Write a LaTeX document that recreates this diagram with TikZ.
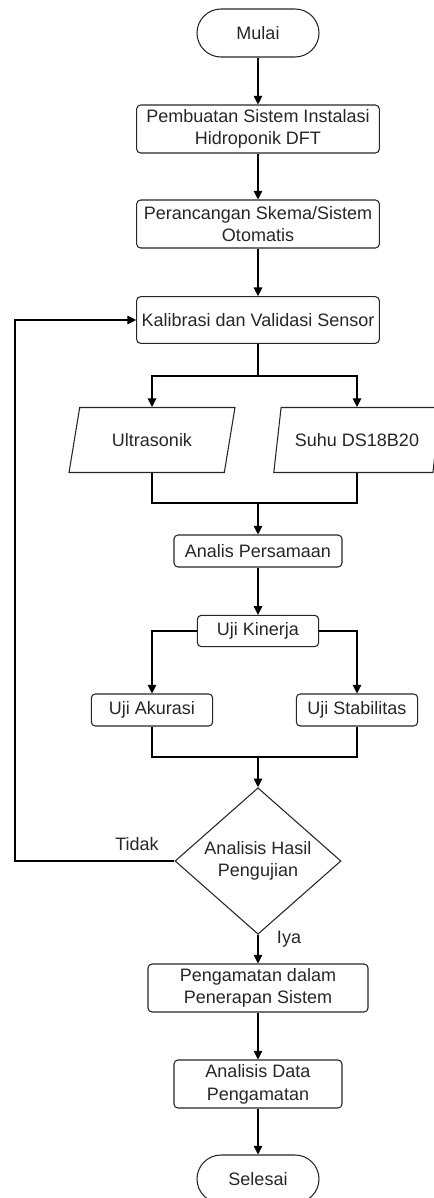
\documentclass[tikz,border=0pt]{standalone}
\usepackage{fontspec}
\setmainfont{Liberation Sans}
\usetikzlibrary{shapes.geometric,arrows.meta}

\tikzset{
  proses/.style={draw=black!85, rectangle, rounded corners=3pt, align=center, inner sep=1pt},
  terminal/.style={draw=black!85, rectangle, rounded corners=18pt, align=center, minimum width=91.5pt, minimum height=36pt},
  data/.style={draw=black!85, trapezium, trapezium left angle=69, trapezium right angle=111, trapezium stretches=true, minimum width=125pt, minimum height=48.75pt, align=center, inner sep=1pt},
  keputusan/.style={draw=black!85, diamond, minimum width=124.5pt, minimum height=106.5pt, align=center, inner sep=0pt},
  panah/.style={-{Triangle[length=6.5pt,width=6.5pt]}},
  garis/.style={draw=black!85, line width=0.8pt}
}

\begin{document}
\begin{tikzpicture}[x=0.75pt, y=-0.75pt, line width=0.8pt, font=\fontsize{13.5}{17}\selectfont, text=black!85]
\useasboundingbox (0,0) rectangle (433,1198);

\node [terminal] (mulai) at (258,33) {Mulai};
\node [proses, minimum width=182pt, minimum height=36pt] (buat) at (258,129) {Pembuatan Sistem Instalasi\\Hidroponik DFT};
\node [proses, minimum width=182pt, minimum height=36pt] (rancang) at (258,224) {Perancangan Skema/Sistem\\Otomatis};
\node [proses, minimum width=182pt, minimum height=35pt] (kalibrasi) at (258,320) {Kalibrasi dan Validasi Sensor};

\node [data] (ultra) at (152,440) {Ultrasonik};
\node [data] (suhu) at (357,440) {Suhu DS18B20};

\node [proses, minimum width=126pt, minimum height=24pt] (persamaan) at (258,551) {Analis Persamaan};
\node [proses, minimum width=91pt, minimum height=23.5pt] (kinerja) at (258,631) {Uji Kinerja};
\node [proses, minimum width=91pt, minimum height=24pt] (akurasi) at (152,710) {Uji Akurasi};
\node [proses, minimum width=91pt, minimum height=24pt] (stabil) at (357,710) {Uji Stabilitas};

\node [keputusan] (hasil) at (258,861) {Analisis Hasil\\Pengujian};

\node [proses, minimum width=165pt, minimum height=36pt] (amati) at (258,988) {Pengamatan dalam\\Penerapan Sistem};
\node [proses, minimum width=126pt, minimum height=36pt] (dataamat) at (258,1084) {Analisis Data\\Pengamatan};
\node [terminal] (selesai) at (258,1179) {Selesai};

\node (tidak) at (137,844) {Tidak};
\node (iya) at (289,939) {Iya};

% titik cabang
\coordinate (cabang1) at (258,376);
\coordinate (gabung1) at (258,503);
\coordinate (gabung2) at (258,757);
\coordinate (balik) at (15,861);

\draw [panah] (mulai) -- (buat);
\draw [panah] (buat) -- (rancang);
\draw [panah] (rancang) -- (kalibrasi);

\draw (kalibrasi) -- (cabang1);
\draw [panah] (cabang1) -| (ultra.north);
\draw [panah] (cabang1) -| (suhu.north);
\draw (ultra.south) |- (gabung1) -| (suhu.south);
\draw [panah] (gabung1) -- (persamaan);

\draw [panah] (persamaan) -- (kinerja);
\draw [panah] (kinerja.west) -| (akurasi.north);
\draw [panah] (kinerja.east) -| (stabil.north);
\draw (akurasi.south) |- (gabung2) -| (stabil.south);
\draw [panah] (gabung2) -- (hasil.north);

\draw [panah] (hasil.west) -- (balik) |- (kalibrasi.west);
\draw [panah] (hasil.south) -- (amati);
\draw [panah] (amati) -- (dataamat);
\draw [panah] (dataamat) -- (selesai);
\end{tikzpicture}
\end{document}
